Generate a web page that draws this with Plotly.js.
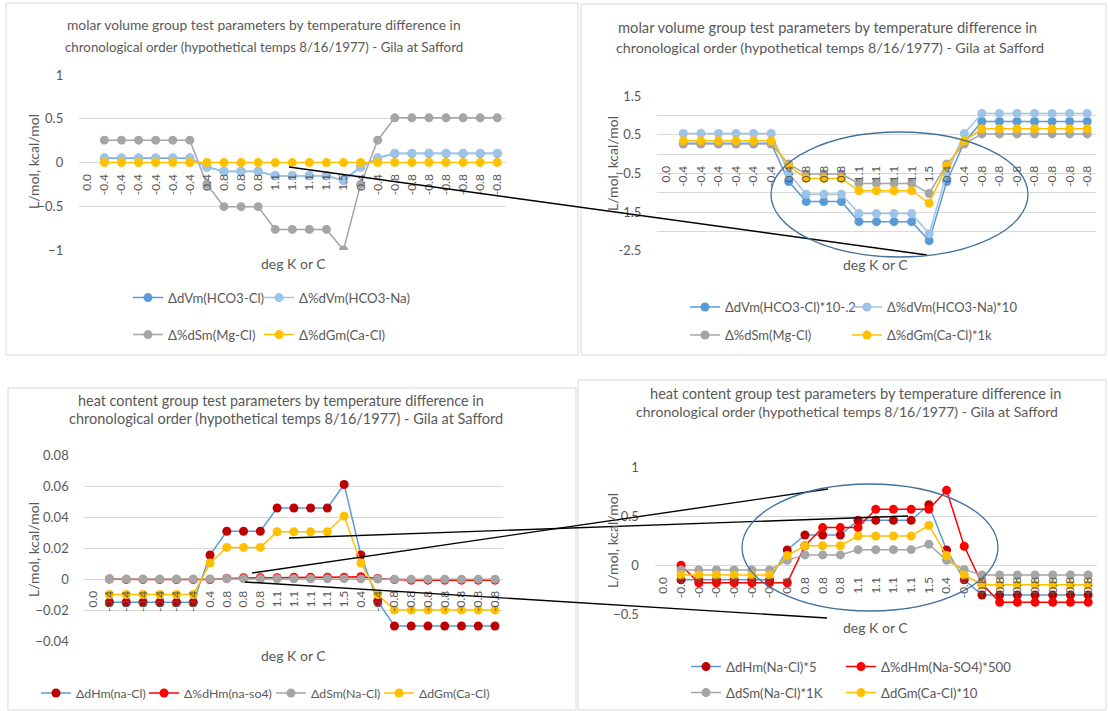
<!DOCTYPE html>
<html><head><meta charset="utf-8">
<script src="https://cdn.plot.ly/plotly-3.0.1.min.js"></script>
<style>html,body{margin:0;padding:0;background:#fff}#chart{width:1108px;height:711px}</style>
</head><body><div id="chart"></div>
<script>
// ---------- data ----------
const cats = ["0.0","-0.4","-0.4","-0.4","-0.4","-0.4","-0.4","0.4","0.8","0.8","0.8","1.1","1.1","1.1","1.1","1.5","0.4","-0.4","-0.8","-0.8","-0.8","-0.8","-0.8","-0.8","-0.8"];

// top-left: molar volume group
const dVmHCO3Cl   = [null,0.048,0.048,0.048,0.048,0.048,0.048,-0.05,-0.102,-0.102,-0.102,-0.152,-0.152,-0.152,-0.152,-0.205,-0.05,0.05,0.102,0.102,0.102,0.102,0.102,0.102,0.102];
const pdVmHCO3Na  = [null,0.053,0.053,0.053,0.053,0.053,0.053,-0.057,-0.099,-0.099,-0.099,-0.152,-0.152,-0.152,-0.152,-0.21,-0.057,0.053,0.107,0.107,0.107,0.107,0.107,0.107,0.107];
const pdSmMgCl    = [null,0.255,0.255,0.255,0.255,0.255,0.255,-0.25,-0.505,-0.505,-0.505,-0.765,-0.765,-0.765,-0.765,-1.0,-0.25,0.255,0.51,0.51,0.51,0.51,0.51,0.51,0.51];
const pdGmCaCl    = [null,0.00034,0.00034,0.00034,0.00034,0.00034,0.00034,-0.00031,-0.00063,-0.00063,-0.00063,-0.00095,-0.00095,-0.00095,-0.00095,-0.00127,-0.00031,0.00034,0.00065,0.00065,0.00065,0.00065,0.00065,0.00065,0.00065];

// top-right: scaled molar volume group
const dVmHCO3ClS  = [null,0.28,0.28,0.28,0.28,0.28,0.28,-0.71,-1.23,-1.23,-1.23,-1.75,-1.75,-1.75,-1.75,-2.24,-0.71,0.3,0.84,0.84,0.84,0.84,0.84,0.84,0.84];
const pdVmHCO3NaS = [null,0.53,0.53,0.53,0.53,0.53,0.53,-0.5,-1.04,-1.04,-1.04,-1.54,-1.54,-1.54,-1.54,-2.06,-0.5,0.53,1.05,1.05,1.05,1.05,1.05,1.05,1.05];
const pdSmMgClS   = [null,0.26,0.26,0.26,0.26,0.26,0.26,-0.26,-0.52,-0.52,-0.52,-0.76,-0.76,-0.76,-0.76,-1.02,-0.26,0.26,0.52,0.52,0.52,0.52,0.52,0.52,0.52];
const pdGmCaClS   = [null,0.34,0.34,0.34,0.34,0.34,0.34,-0.31,-0.63,-0.63,-0.63,-0.95,-0.95,-0.95,-0.95,-1.27,-0.31,0.34,0.65,0.65,0.65,0.65,0.65,0.65,0.65];

// bottom-left: heat content group
const dHmNaCl     = [null,-0.015,-0.015,-0.015,-0.015,-0.015,-0.015,0.0155,0.0308,0.0308,0.0308,0.0458,0.0458,0.0458,0.0458,0.061,0.0155,-0.0145,-0.0303,-0.0303,-0.0303,-0.0303,-0.0303,-0.0303,-0.0303];
const pdHmNaSO4   = [null,0,-0.0004,-0.0004,-0.0004,-0.0004,-0.0004,-0.0004,0.0004,0.0008,0.0008,0.0008,0.00115,0.00115,0.00115,0.00115,0.0015,0.0004,-0.0004,-0.00076,-0.00076,-0.00076,-0.00076,-0.00076,-0.00076];
const dSmNaCl     = [null,-0.00005,-0.00005,-0.00005,-0.00005,-0.00005,-0.00005,0.00005,0.0001,0.0001,0.0001,0.00017,0.00017,0.00017,0.00017,0.00021,0.00005,-0.00005,-0.0001,-0.0001,-0.0001,-0.0001,-0.0001,-0.0001,-0.0001];
const dGmCaCl     = [null,-0.01,-0.01,-0.01,-0.01,-0.01,-0.01,0.0103,0.0204,0.0204,0.0204,0.0305,0.0305,0.0305,0.0305,0.0406,0.0103,-0.01,-0.02,-0.02,-0.02,-0.02,-0.02,-0.02,-0.02];

// bottom-right: scaled heat content group
const dHmNaClS    = [null,-0.15,-0.15,-0.15,-0.15,-0.15,-0.15,0.157,0.31,0.31,0.31,0.46,0.46,0.46,0.46,0.62,0.157,-0.15,-0.305,-0.305,-0.305,-0.305,-0.305,-0.305,-0.305];
const pdHmNaSO4S  = [null,0,-0.18,-0.18,-0.18,-0.18,-0.18,-0.18,0.2,0.386,0.386,0.386,0.573,0.573,0.573,0.573,0.768,0.195,-0.19,-0.38,-0.38,-0.38,-0.38,-0.38,-0.38];
const dSmNaClS    = [null,-0.048,-0.048,-0.048,-0.048,-0.048,-0.048,0.05,0.106,0.106,0.106,0.16,0.16,0.16,0.16,0.215,0.05,-0.045,-0.1,-0.1,-0.1,-0.1,-0.1,-0.1,-0.1];
const dGmCaClS    = [null,-0.1,-0.1,-0.1,-0.1,-0.1,-0.1,0.1,0.2,0.2,0.2,0.3,0.3,0.3,0.3,0.41,0.1,-0.1,-0.2,-0.2,-0.2,-0.2,-0.2,-0.2,-0.2];

// tick labels
const yTicks2Vals = [-2.5,-2,-1.5,-1,-0.5,0,0.5,1,1.5];
const yTicks2Text = ["-2.5","","-1.5","","-0.5","","0.5","","1.5"];

const titleMV = ["molar volume group test parameters by temperature difference in", "chronological order (hypothetical temps 8/16/1977) - Gila at Safford"];
const titleHC = ["heat content group test parameters by temperature difference in", "chronological order (hypothetical temps 8/16/1977) - Gila at Safford"];

// ---------- drawing ----------
const W = 1108, H = 711;
const fx = x => x / W, fy = y => 1 - y / H;
const FONT = 'Lato, "Open Sans", sans-serif';
const GREY = '#595959';
const idx = cats.map((c, i) => i);

const C = {blue:'#5B9BD5', lblue:'#9DC3E6', gray:'#A5A5A5', yellow:'#FFC000', dred:'#C00000', red:'#FF0000'};

const layout = {
  width: W, height: H, margin: {l:0, r:0, t:0, b:0},
  paper_bgcolor: '#fff', plot_bgcolor: 'rgba(0,0,0,0)',
  font: {family: FONT, color: GREY, size: 12},
  showlegend: true, hovermode: false,
  annotations: [], shapes: []
};

let legN = 0;
// each series has its own legend entry placed at the symbol centre (cx, cy) in pixels
function tr(y, name, lineColor, markerColor, xa, ya, cx, cy, fs) {
  legN += 1;
  const key = legN === 1 ? 'legend' : 'legend' + legN;
  layout[key] = {orientation: 'h', x: fx(cx - 21), y: fy(cy), xanchor: 'left', yanchor: 'middle',
    bgcolor: 'rgba(0,0,0,0)', font: {size: fs, color: GREY, family: FONT},
    itemclick: false, itemdoubleclick: false};
  return {x: idx, y: y, name: name, type: 'scatter', mode: 'lines+markers',
    line: {color: lineColor, width: 1.5}, marker: {color: markerColor, size: 9},
    xaxis: xa, yaxis: ya, legend: key, hoverinfo: 'skip'};
}

const traces = [
  tr(dVmHCO3Cl, 'ΔdVm(HCO3-Cl)', C.blue, C.blue, 'x', 'y', 149, 298, 13.2),
  tr(pdVmHCO3Na, 'Δ%dVm(HCO3-Na)', C.lblue, C.lblue, 'x', 'y', 280, 298, 13.2),
  tr(pdSmMgCl, 'Δ%dSm(Mg-Cl)', C.gray, C.gray, 'x', 'y', 149, 335, 13.2),
  tr(pdGmCaCl, 'Δ%dGm(Ca-Cl)', C.yellow, C.yellow, 'x', 'y', 280, 335, 13.2),

  tr(dVmHCO3ClS, 'ΔdVm(HCO3-Cl)*10-.2', C.blue, C.blue, 'x2', 'y2', 706, 307, 13),
  tr(pdVmHCO3NaS, 'Δ%dVm(HCO3-Na)*10', C.lblue, C.lblue, 'x2', 'y2', 868, 307, 13),
  tr(pdSmMgClS, 'Δ%dSm(Mg-Cl)', C.gray, C.gray, 'x2', 'y2', 706, 335, 13),
  tr(pdGmCaClS, 'Δ%dGm(Ca-Cl)*1k', C.yellow, C.yellow, 'x2', 'y2', 868, 335, 13),

  tr(dHmNaCl, 'ΔdHm(na-Cl)', C.blue, C.dred, 'x3', 'y3', 57, 693, 12.3),
  tr(pdHmNaSO4, 'Δ%dHm(na-so4)', C.red, C.red, 'x3', 'y3', 165, 693, 12.3),
  tr(dSmNaCl, 'ΔdSm(Na-Cl)', C.gray, C.gray, 'x3', 'y3', 292, 693, 12.3),
  tr(dGmCaCl, 'ΔdGm(Ca-Cl)', C.yellow, C.yellow, 'x3', 'y3', 400, 693, 12.3),

  tr(dHmNaClS, 'ΔdHm(Na-Cl)*5', C.blue, C.dred, 'x4', 'y4', 707, 667, 13.2),
  tr(pdHmNaSO4S, 'Δ%dHm(Na-SO4)*500', C.red, C.red, 'x4', 'y4', 862, 667, 13.2),
  tr(dSmNaClS, 'ΔdSm(Na-Cl)*1K', C.gray, C.gray, 'x4', 'y4', 707, 693, 13.2),
  tr(dGmCaClS, 'ΔdGm(Ca-Cl)*10', C.yellow, C.yellow, 'x4', 'y4', 862, 693, 13.2),
];

const panels = [
  {k:'', px:[78.8,505.8], py:[75,250], yr:[-1,1], zero:162.3, dtick:0.5},
  {k:'2', px:[657,1096], py:[96,250.7], yr:[-2.5,1.5], zero:154, tv:yTicks2Vals, tt:yTicks2Text},
  {k:'3', px:[84.3,503.4], py:[455,641], yr:[-0.04,0.08], zero:579, dtick:0.02},
  {k:'4', px:[654.5,1097], py:[467.7,614], yr:[-0.5,1], zero:565.3, dtick:0.5},
];

panels.forEach(p => {
  const xa = 'xaxis' + p.k, ya = 'yaxis' + p.k;
  layout[xa] = {domain: [fx(p.px[0]), fx(p.px[1])], range: [-0.5, 24.5],
    tickmode: 'array', tickvals: idx, ticktext: cats, tickangle: -90,
    anchor: 'free', position: fy(p.zero), showgrid: false, zeroline: false, showline: false,
    ticks: 'outside', ticklen: 6, tickcolor: 'rgba(0,0,0,0)',
    tickfont: {size: 12, color: GREY, family: FONT}, fixedrange: true};
  const y = {domain: [fy(p.py[1]), fy(p.py[0])], range: p.yr, anchor: 'x' + p.k,
    showgrid: true, gridcolor: '#D9D9D9', gridwidth: 1,
    zeroline: true, zerolinecolor: '#D9D9D9', zerolinewidth: 1, showline: false,
    ticks: 'outside', ticklen: 12, tickcolor: 'rgba(0,0,0,0)',
    tickfont: {size: 13, color: GREY, family: FONT}, fixedrange: true};
  if (p.tv) { y.tickmode = 'array'; y.tickvals = p.tv; y.ticktext = p.tt; }
  else { y.dtick = p.dtick; y.tick0 = 0; }
  layout[ya] = y;
});

// text annotations
function ann(x, y, text, size, angle) {
  return {xref:'paper', yref:'paper', x: fx(x), y: fy(y), xanchor:'center', yanchor:'middle',
    text: text, showarrow: false, textangle: angle || 0,
    font: {family: FONT, size: size, color: GREY}};
}
layout.annotations.push(
  ann(264, 25, titleMV[0], 13.8), ann(264, 47, titleMV[1], 13.3),
  ann(827, 27, titleMV[0], 14.7), ann(830, 47, titleMV[1], 14.3),
  ann(281, 400, titleHC[0], 14.4), ann(286, 419, titleHC[1], 14.5),
  ann(855, 393, titleHC[0], 14.6), ann(847, 411, titleHC[1], 14.1),
  ann(33, 162, 'L/mol, kcal/mol', 14, -90), ann(612, 164, 'L/mol, kcal/mol', 14, -90),
  ann(33, 550, 'L/mol, kcal/mol', 14, -90), ann(612, 541, 'L/mol, kcal/mol', 14, -90),
  ann(293, 263, 'deg K or C', 14), ann(875, 264, 'deg K or C', 14),
  ann(293, 655, 'deg K or C', 14), ann(875, 627, 'deg K or C', 14)
);

// panel frames
function box(x0, y0, x1, y1) {
  return {type:'rect', xref:'paper', yref:'paper', x0: fx(x0), x1: fx(x1), y0: fy(y1), y1: fy(y0),
    line:{color:'#D9D9D9', width:1}, fillcolor:'rgba(0,0,0,0)', layer:'below'};
}
layout.shapes.push(box(6, 3, 578, 355), box(581, 4, 1106, 355), box(8, 388, 576, 710), box(578, 380, 1106, 710));

// callout lines and ellipses
function ln(x0, y0, x1, y1) {
  return {type:'line', xref:'paper', yref:'paper', x0: fx(x0), y0: fy(y0), x1: fx(x1), y1: fy(y1),
    line:{color:'#000', width:1.4}, layer:'above'};
}
function ell(x0, y0, x1, y1) {
  return {type:'circle', xref:'paper', yref:'paper', x0: fx(x0), y0: fy(y1), x1: fx(x1), y1: fy(y0),
    line:{color:'#41719C', width:1.3}, fillcolor:'rgba(0,0,0,0)', layer:'above'};
}
layout.shapes.push(
  ln(289, 167, 927, 255),
  ln(289, 538, 908, 516),
  ln(252, 573, 828, 489),
  ln(245, 582, 827, 618),
  ell(771, 132, 1028, 257),
  ell(742, 484, 998, 611)
);

Plotly.newPlot('chart', traces, layout, {staticPlot: true, displayModeBar: false});
</script>
</body></html>
